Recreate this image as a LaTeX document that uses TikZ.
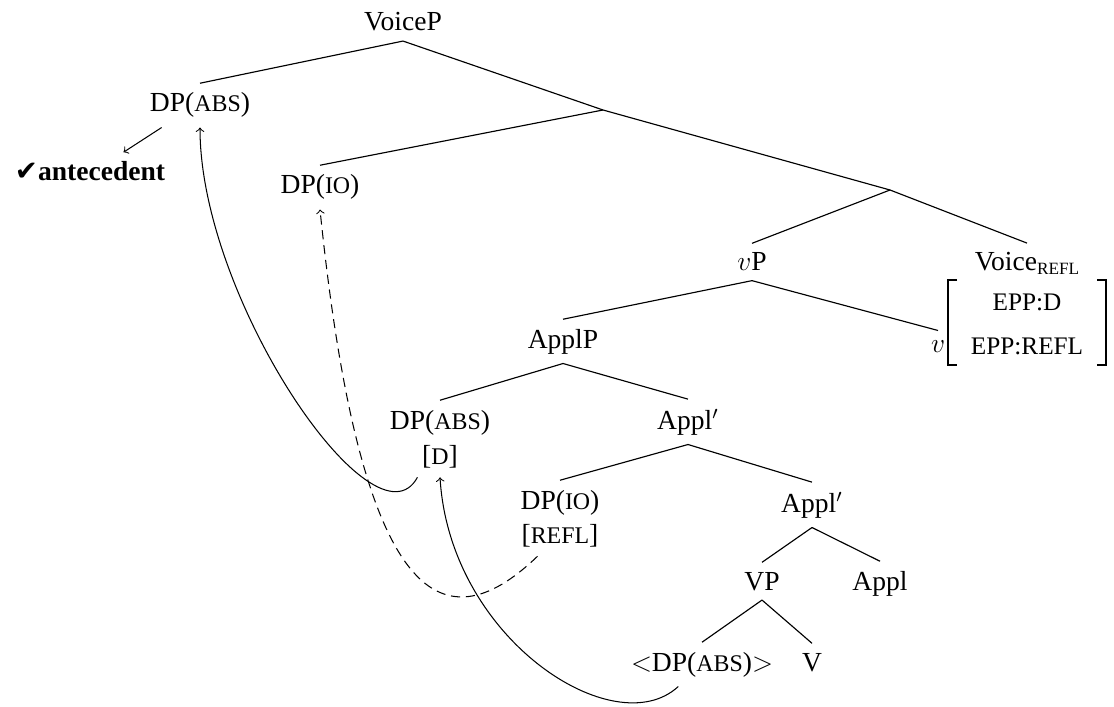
\documentclass[tikz,border=0pt]{standalone}
\usepackage{fontspec}
\setmainfont{Liberation Serif}
\newfontfamily\checkfont{DejaVu Sans}
\newcommand{\fsc}[1]{{\fontsize{10.4}{11}\selectfont #1}}
\newcommand{\eppsc}[1]{{\fontsize{11}{12}\selectfont #1}}
\newcommand{\subsc}[1]{\raisebox{-1.5pt}{\fontsize{7.5}{8}\selectfont #1}}

\begin{document}
\begin{tikzpicture}[x=0.0153cm,y=-0.0153cm]
  \tikzset{cat/.style={anchor=base,inner xsep=2pt,inner ysep=4pt,font=\fontsize{12}{14}\selectfont}}
  \tikzset{branch/.style={line width=0.5pt}}
  \tikzset{move/.style={->,>=to,line width=0.45pt}}
  \tikzset{bind/.style={move,dash pattern=on 4pt off 2.5pt}}
  \tikzset{brk/.style={line width=0.8pt}}
  \useasboundingbox (0,0) rectangle (1114,706);
  % upper part of the tree
  \node[cat] (voicep) at (403,31) {VoiceP};
  \node[cat] (dpabs) at (200,112) {DP(\fsc{ABS})};
  \node[cat] (ante) at (90,181) {{\checkfont ✔}\textbf{antecedent}};
  \coordinate (bar1) at (603,110);
  \node[cat] (dpio) at (320,194) {DP(\fsc{IO})};
  \coordinate (bar2) at (890,190);
  \node[cat] (vp) at (752,271) {$v$P};
  \node[cat] (voicerefl) at (1027,271) {Voice\subsc{REFL}};
  \node[cat] (vhead) at (938,352) {$v$};
  \node[cat] (epp1) at (1027,310) {\eppsc{EPP:D}};
  \node[cat] (epp2) at (1027,354) {\eppsc{EPP:REFL}};
  % lower part of the tree
  \node[cat] (applp) at (563,348) {ApplP};
  \node[cat] (dpabs2) at (440,429) {DP(\fsc{ABS})};
  \node[cat] (dfeat) at (440,464) {[\fsc{D}]};
  \node[cat] (applbar) at (688,429) {Appl$'$};
  \node[cat] (dpio2) at (560,509) {DP(\fsc{IO})};
  \node[cat] (rfeat) at (560,543) {[\fsc{REFL}]};
  \node[cat] (applbar2) at (812,512) {Appl$'$};
  \node[cat] (vpp) at (762,590) {VP};
  \node[cat] (appl) at (880,590) {Appl};
  \node[cat] (dptrace) at (702,671) {$<$DP(\fsc{ABS})$>$};
  \node[cat] (vv) at (812,671) {V};
  % branches
  \draw[branch] (voicep.south) -- (dpabs.north);
  \draw[branch] (voicep.south) -- (bar1) -- (bar2);
  \draw[branch] (bar1) -- (dpio.north);
  \draw[branch] (bar2) -- (vp.north);
  \draw[branch] (bar2) -- (voicerefl.north);
  \draw[branch] (vp.south) -- (applp.north);
  \draw[branch] (vp.south) -- (vhead.north);
  \draw[branch] (applp.south) -- (dpabs2.north);
  \draw[branch] (applp.south) -- (applbar.north);
  \draw[branch] (applbar.south) -- (dpio2.north);
  \draw[branch] (applbar.south) -- (applbar2.north);
  \draw[branch] (applbar2.south) -- (vpp.north);
  \draw[branch] (applbar2.south) -- (appl.north);
  \draw[branch] (vpp.south) -- (dptrace.north);
  \draw[branch] (vpp.south) -- (vv.north);
  % feature brackets
  \draw[brk] (957,280) -- (948,280) -- (948,365) -- (957,365);
  \draw[brk] (1097,280) -- (1106,280) -- (1106,365) -- (1097,365);
  % movement and binding
  \draw[move] (dpabs.-150) -- (ante.30);
  \draw[move] (dfeat.-137) .. controls (375,555) and (200,300) .. (dpabs.south);
  \draw[bind] (rfeat.-137) .. controls (440,650) and (360,600) .. (dpio.south);
  \draw[move] (dptrace.-137) .. controls (615,745) and (450,640) .. (dfeat.south);
\end{tikzpicture}
\end{document}
